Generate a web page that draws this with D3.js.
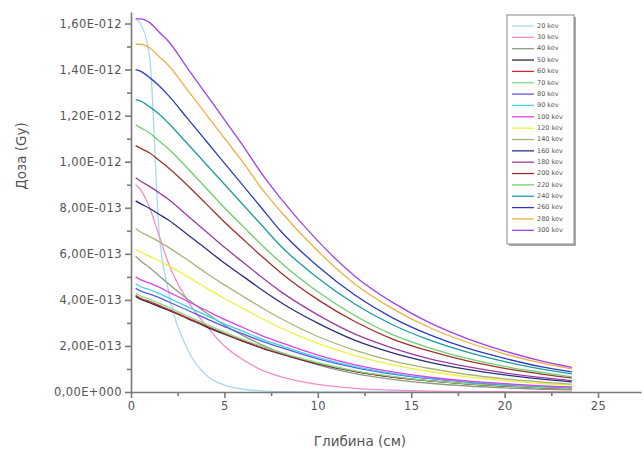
<!DOCTYPE html>
<html>
<head>
<meta charset="utf-8">
<script src="https://cdn.jsdelivr.net/npm/d3@7"></script>
<style>
  body { margin: 0; background: #fff; }
  svg text { font-family: "DejaVu Sans", sans-serif; fill: #555; }
</style>
</head>
<body>
<div id="chart"></div>
<script>
// depth points (cm) and dose per series (units of 1e-12 Gy)
const depth = [0.25, 0.5, 1, 1.5, 2, 3, 4, 5, 6, 7, 8, 10, 12, 14, 16, 18, 20, 22, 23.6];

const energies = ["20", "30", "40", "50", "60", "70", "80", "90", "100", "120", "140",
  "160", "180", "200", "220", "240", "260", "280", "300"];

const colors = ["#a8d8f0", "#f48cc8", "#8c9c84", "#2a2a3a", "#c8283c", "#7ee07e", "#5a5ae6",
  "#3cd2e6", "#e040e6", "#f0f03c", "#a8b47c", "#28307c", "#9c3ca0", "#a0302c", "#6cd06c",
  "#1c9c9c", "#2c3cc0", "#f0b040", "#a040f0"];

const dose20 = [1.62, 1.60, 1.45, 0.70, 0.44, 0.19, 0.075, 0.03, 0.012, 0.005, 0.002, 0.0005, 0.0001, 0, 0, 0, 0, 0, 0];
const dose30 = [0.90, 0.88, 0.80, 0.68, 0.56, 0.40, 0.29, 0.20, 0.14, 0.095, 0.067, 0.033, 0.016, 0.008, 0.004, 0.002, 0.001, 0.0005, 0.0003];
const dose40 = [0.59, 0.57, 0.54, 0.505, 0.47, 0.405, 0.345, 0.29, 0.245, 0.205, 0.172, 0.118, 0.080, 0.055, 0.038, 0.026, 0.018, 0.012, 0.009];
const dose50 = [0.415, 0.403, 0.388, 0.371, 0.355, 0.320, 0.284, 0.251, 0.220, 0.191, 0.166, 0.122, 0.089, 0.065, 0.048, 0.035, 0.026, 0.019, 0.015];
const dose60 = [0.42, 0.407, 0.393, 0.376, 0.359, 0.323, 0.288, 0.254, 0.223, 0.193, 0.168, 0.124, 0.090, 0.066, 0.048, 0.035, 0.026, 0.019, 0.015];
const dose70 = [0.43, 0.417, 0.402, 0.385, 0.368, 0.331, 0.295, 0.260, 0.228, 0.198, 0.172, 0.127, 0.092, 0.068, 0.049, 0.036, 0.027, 0.020, 0.015];
const dose80 = [0.45, 0.439, 0.425, 0.410, 0.392, 0.356, 0.320, 0.284, 0.252, 0.221, 0.194, 0.144, 0.106, 0.078, 0.058, 0.043, 0.032, 0.024, 0.019];
const dose90 = [0.47, 0.458, 0.444, 0.428, 0.409, 0.371, 0.334, 0.296, 0.263, 0.230, 0.202, 0.150, 0.110, 0.081, 0.060, 0.045, 0.033, 0.025, 0.020];
const dose100 = [0.50, 0.488, 0.473, 0.455, 0.435, 0.395, 0.355, 0.315, 0.280, 0.245, 0.215, 0.160, 0.118, 0.087, 0.064, 0.048, 0.036, 0.027, 0.021];
const dose120 = [0.62, 0.608, 0.589, 0.570, 0.549, 0.502, 0.453, 0.406, 0.363, 0.319, 0.279, 0.211, 0.158, 0.118, 0.089, 0.066, 0.050, 0.037, 0.030];
const dose140 = [0.71, 0.696, 0.675, 0.653, 0.628, 0.575, 0.518, 0.465, 0.415, 0.366, 0.320, 0.241, 0.181, 0.135, 0.102, 0.076, 0.057, 0.043, 0.034];
const dose160 = [0.83, 0.818, 0.797, 0.772, 0.747, 0.685, 0.623, 0.560, 0.502, 0.444, 0.390, 0.299, 0.224, 0.170, 0.129, 0.098, 0.074, 0.056, 0.044];
const dose180 = [0.93, 0.916, 0.893, 0.865, 0.837, 0.767, 0.698, 0.628, 0.563, 0.498, 0.437, 0.335, 0.251, 0.191, 0.144, 0.110, 0.083, 0.062, 0.049];
const dose200 = [1.07, 1.059, 1.038, 1.006, 0.974, 0.899, 0.819, 0.738, 0.663, 0.589, 0.519, 0.401, 0.305, 0.230, 0.177, 0.135, 0.103, 0.078, 0.061];
const dose220 = [1.16, 1.148, 1.125, 1.09, 1.056, 0.974, 0.887, 0.80, 0.719, 0.638, 0.563, 0.435, 0.331, 0.249, 0.191, 0.146, 0.111, 0.085, 0.066];
const dose240 = [1.27, 1.264, 1.238, 1.207, 1.168, 1.08, 0.991, 0.902, 0.813, 0.724, 0.635, 0.495, 0.381, 0.292, 0.225, 0.173, 0.132, 0.099, 0.079];
const dose260 = [1.40, 1.393, 1.365, 1.33, 1.288, 1.19, 1.092, 0.994, 0.896, 0.798, 0.70, 0.546, 0.42, 0.322, 0.248, 0.19, 0.146, 0.109, 0.087];
const dose280 = [1.51, 1.51, 1.495, 1.457, 1.419, 1.314, 1.208, 1.102, 0.997, 0.883, 0.785, 0.612, 0.468, 0.362, 0.279, 0.216, 0.166, 0.125, 0.100];
const dose300 = [1.62, 1.62, 1.604, 1.563, 1.523, 1.409, 1.296, 1.183, 1.069, 0.948, 0.842, 0.656, 0.502, 0.389, 0.300, 0.232, 0.178, 0.134, 0.107];

const doses = [dose20, dose30, dose40, dose50, dose60, dose70, dose80, dose90, dose100, dose120,
  dose140, dose160, dose180, dose200, dose220, dose240, dose260, dose280, dose300];

const xTicks = [0, 5, 10, 15, 20, 25];
const xMinor = [2.5, 7.5, 12.5, 17.5, 22.5];
const yTicks = [0, 0.2, 0.4, 0.6, 0.8, 1.0, 1.2, 1.4, 1.6];
const yMinor = [0.1, 0.3, 0.5, 0.7, 0.9, 1.1, 1.3, 1.5];

const width = 644
const height = 453

const svg = d3.select("#chart")
  .append("svg")
  .attr("width", width)
  .attr("height", height);

const x = d3.scaleLinear().domain([0, 27.3]).range([131, 641]);
const y = d3.scaleLinear().domain([0, 1.65]).range([392, 12]);

// format like 1,60E-012
const sciFmt = function (v) {
  if (v === 0) return "0,00E+000";
  const e = Math.floor(Math.log10(v) + 1e-9);
  const m = (v / Math.pow(10, e)).toFixed(2).replace(".", ",");
  const exp = e - 12;
  return m + "E" + (exp < 0 ? "-" : "+") + String(Math.abs(exp)).padStart(3, "0");
};

//curves
const line = d3.line()
  .x((d, i) => x(depth[i]))
  .y(d => y(d))
  .curve(d3.curveMonotoneX);

svg.append("g")
  .selectAll("path")
  .data(doses)
  .join("path")
  .attr("d", line)
  .attr("fill", "none")
  .attr("stroke", (d, i) => colors[i])
  .attr("stroke-width", 1.3);

//axes
const axisColor = "#7a7a7a";

svg.append("g")
  .attr("transform", "translate(131,0)")
  .call(d3.axisLeft(y).tickValues(yTicks).tickSize(6).tickSizeOuter(0).tickPadding(3).tickFormat(sciFmt));
svg.append("g")
  .attr("transform", "translate(131,0)")
  .call(d3.axisLeft(y).tickValues(yMinor).tickSize(4).tickFormat(""))
  .call(g => g.select(".domain").remove());

svg.append("g")
  .attr("transform", "translate(0,392)")
  .call(d3.axisBottom(x).tickValues(xTicks).tickSize(6).tickSizeOuter(0).tickPadding(4));
svg.append("g")
  .attr("transform", "translate(0,392)")
  .call(d3.axisBottom(x).tickValues(xMinor).tickSize(4).tickFormat(""))
  .call(g => g.select(".domain").remove());

svg.selectAll(".domain, .tick line")
  .attr("stroke", axisColor)
  .attr("stroke-width", 1.6);
svg.selectAll(".tick text")
  .style("font-size", "11.5px")
  .style("letter-spacing", "0.4px")
  .attr("fill", "#555");

//axis titles
svg.append("text")
  .attr("transform", "translate(26,156) rotate(-90)")
  .attr("text-anchor", "middle")
  .style("font-size", "13.5px")
  .text("Доза (Gy)");

svg.append("text")
  .attr("x", 360)
  .attr("y", 446)
  .attr("text-anchor", "middle")
  .style("font-size", "13.5px")
  .text("Глибина (см)");

//legend
const lgX = 507, lgY = 15, lgW = 67, lgH = 229, rowH = 11.35;
svg.append("rect")
  .attr("x", lgX + 2).attr("y", lgY + 2)
  .attr("width", lgW).attr("height", lgH)
  .attr("fill", "#aaa");
svg.append("rect")
  .attr("x", lgX).attr("y", lgY)
  .attr("width", lgW).attr("height", lgH)
  .attr("fill", "#fff")
  .attr("stroke", "#888")
  .attr("stroke-width", 1);

const lg = svg.append("g");
lg.selectAll("line")
  .data(energies)
  .join("line")
  .attr("x1", lgX + 5)
  .attr("x2", lgX + 27)
  .attr("y1", (d, i) => lgY + 11 + i * rowH)
  .attr("y2", (d, i) => lgY + 11 + i * rowH)
  .attr("stroke", (d, i) => colors[i])
  .attr("stroke-width", 1.3);
lg.selectAll("text")
  .data(energies)
  .join("text")
  .attr("x", lgX + 30)
  .attr("y", (d, i) => lgY + 11 + i * rowH)
  .attr("dominant-baseline", "middle")
  .style("font-size", "6.5px")
  .text(d => d + " kev");
</script>
</body>
</html>
